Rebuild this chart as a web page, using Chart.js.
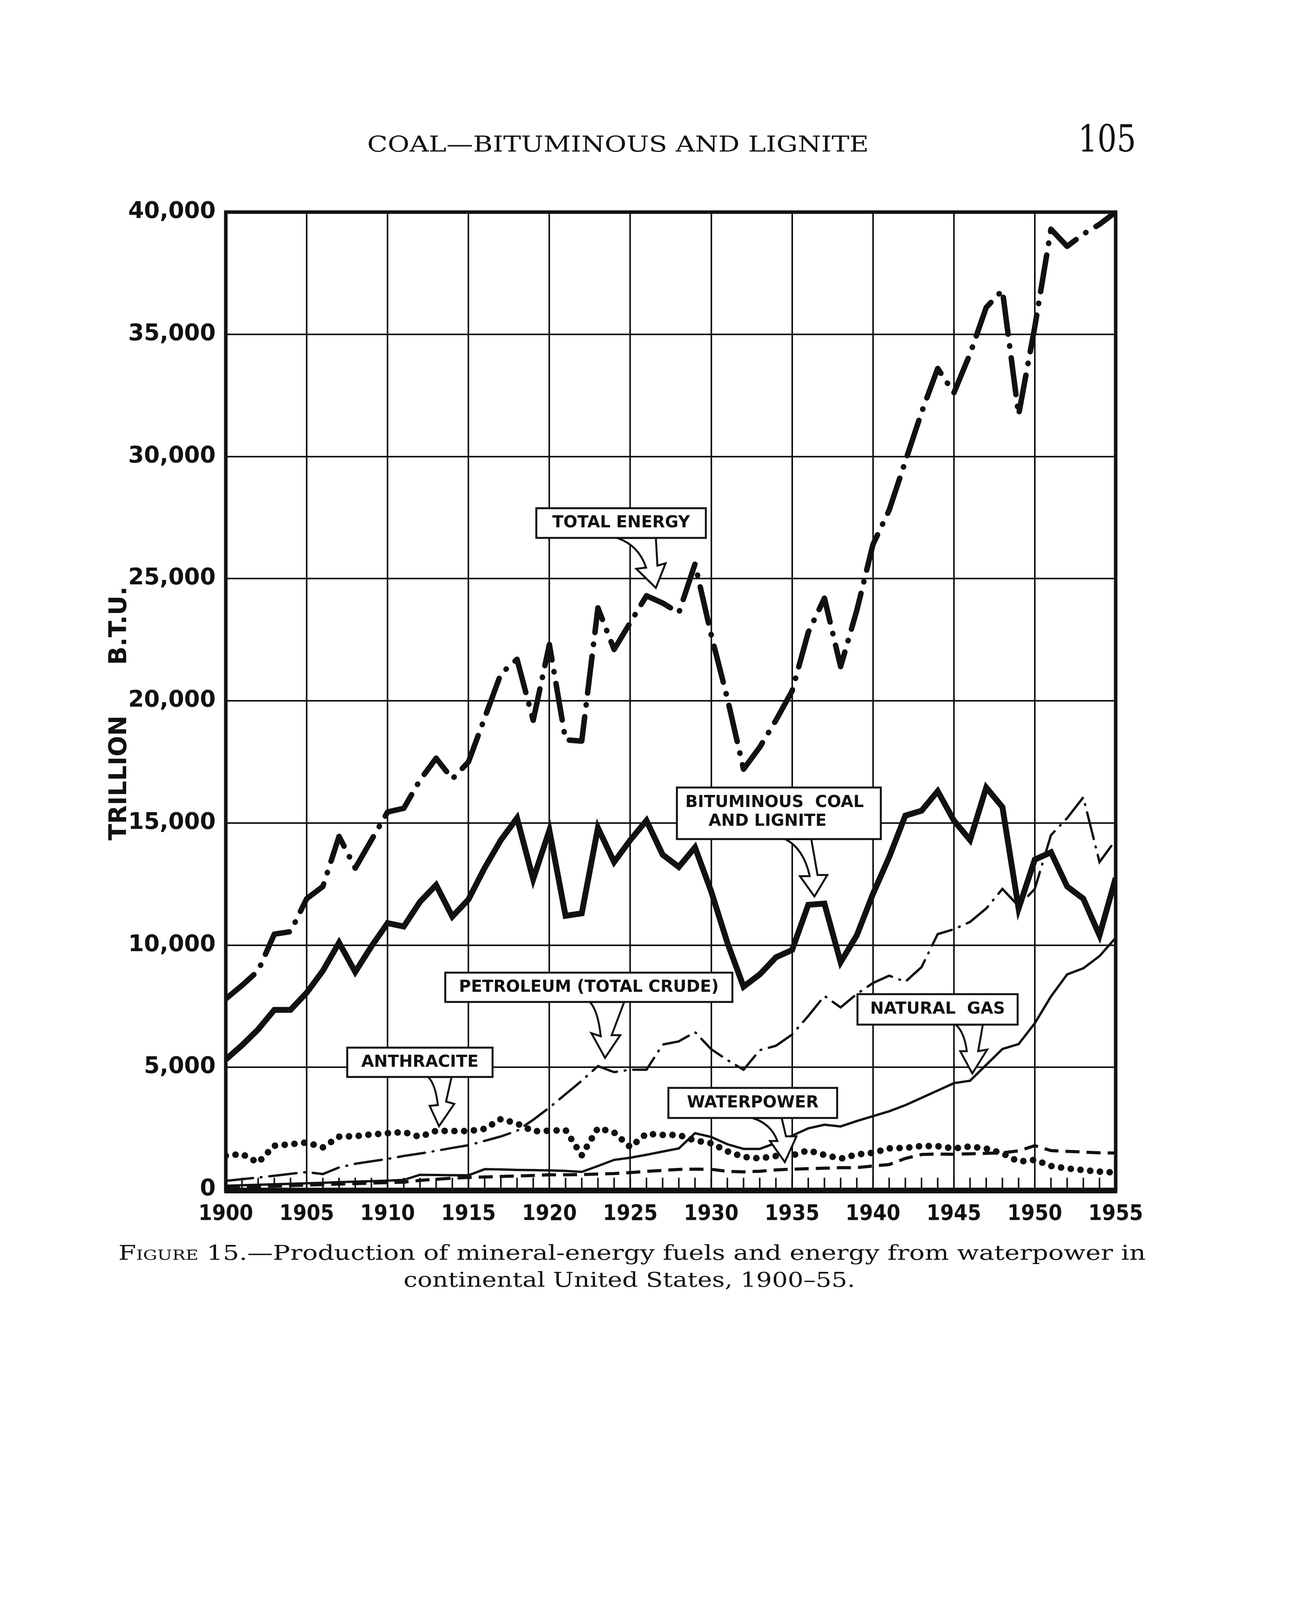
<!DOCTYPE html>
<html>
<head>
<meta charset="utf-8">
<title>Figure 15 - Production of mineral-energy fuels</title>
<script src="https://cdn.jsdelivr.net/npm/chart.js@4.4.0/dist/chart.umd.min.js"></script>
<style>
  html, body { margin: 0; padding: 0; background: #fff; }
  #page { position: relative; width: 3356px; height: 5403px; background: #fff; overflow: hidden; color: #111; }
  #chart { position: absolute; left: 0; top: 0; }
  .txt { position: absolute; white-space: nowrap; font-family: "DejaVu Serif", serif; line-height: 1; transform-origin: left top; }
</style>
</head>
<body>
<div id="page">
  <div class="txt" data-w="1284" style="left:940px; top:341px; font-size:56px;">COAL—BITUMINOUS AND LIGNITE</div>
  <div class="txt" data-w="148" style="left:2760px; top:307px; font-size:96px;">105</div>
  <canvas id="chart" width="3356" height="3400"></canvas>
  <div class="txt" data-w="2630" style="left:303px; top:3181px; font-size:52px;"><span style="font-variant:small-caps">Figure</span> 15.—Production of mineral-energy fuels and energy from waterpower in</div>
  <div class="txt" data-w="1156" style="left:1033px; top:3250px; font-size:52px;">continental United States, 1900–55.</div>
  <div class="txt" data-w="472" style="left:509px; top:4853px; font-size:56px;">428704—58——8</div>
</div>

<script>
// years 1900-1955, values in trillion B.t.u.
const years = [1900, 1901, 1902, 1903, 1904, 1905, 1906, 1907, 1908, 1909,
               1910, 1911, 1912, 1913, 1914, 1915, 1916, 1917, 1918, 1919,
               1920, 1921, 1922, 1923, 1924, 1925, 1926, 1927, 1928, 1929,
               1930, 1931, 1932, 1933, 1934, 1935, 1936, 1937, 1938, 1939,
               1940, 1941, 1942, 1943, 1944, 1945, 1946, 1947, 1948, 1949,
               1950, 1951, 1952, 1953, 1954, 1955];

const totalEnergy = [7800, 8350, 8950, 10450, 10550, 11900, 12400, 14450, 13150, 14300,
                     15450, 15600, 16750, 17650, 16800, 17500, 19300, 21100, 21700, 19200,
                     22300, 18400, 18350, 23800, 22100, 23200, 24300, 24000, 23600, 25600,
                     22700, 20100, 17200, 18100, 19200, 20400, 22800, 24200, 21400, 23700,
                     26400, 27800, 29800, 31800, 33600, 32600, 34200, 36100, 36800, 31700,
                     35300, 39300, 38600, 39100, 39500, 40000];

const bituminous = [5320, 5900, 6550, 7350, 7350, 8050, 8950, 10100, 8900, 9950,
                    10900, 10760, 11770, 12460, 11170, 11870, 13160, 14300, 15200, 12700,
                    14700, 11200, 11300, 14800, 13400, 14300, 15100, 13700, 13200, 14000,
                    12200, 10100, 8300, 8800, 9500, 9800, 11650, 11700, 9300, 10400,
                    12100, 13600, 15300, 15500, 16300, 15100, 14300, 16450, 15650, 11500,
                    13500, 13800, 12400, 11900, 10400, 12750];

const petroleum = [350, 420, 490, 560, 640, 710, 630, 900, 1050, 1150,
                   1250, 1370, 1470, 1580, 1700, 1810, 1990, 2170, 2400, 2850,
                   3350, 3900, 4450, 5050, 4800, 4900, 4900, 5930, 6060, 6440,
                   5740, 5300, 4900, 5700, 5880, 6340, 7100, 7920, 7450, 8000,
                   8450, 8750, 8500, 9100, 10450, 10650, 10950, 11500, 12300, 11600,
                   12300, 14500, 15200, 16050, 13400, 14300];

const naturalGas = [150, 170, 190, 210, 230, 250, 270, 300, 320, 340,
                    360, 390, 600, 590, 585, 580, 830, 820, 800, 790,
                    780, 760, 720, 960, 1210, 1300, 1420, 1550, 1680, 2300,
                    2150, 1850, 1660, 1660, 1900, 2200, 2500, 2650, 2580, 2800,
                    3000, 3200, 3450, 3750, 4050, 4350, 4450, 5100, 5750, 5950,
                    6800, 7900, 8800, 9050, 9550, 10300];

const anthracite = [1380, 1450, 1100, 1790, 1850, 1920, 1720, 2160, 2180, 2250,
                    2300, 2350, 2150, 2400, 2390, 2390, 2480, 2880, 2700, 2380,
                    2400, 2430, 1400, 2510, 2330, 1730, 2280, 2230, 2230, 2000,
                    1890, 1560, 1330, 1270, 1370, 1390, 1600, 1410, 1260, 1430,
                    1500, 1680, 1700, 1780, 1770, 1680, 1760, 1670, 1475, 1140,
                    1210, 960, 860, 790, 730, 690];

const waterpower = [100, 110, 125, 140, 160, 180, 200, 220, 240, 260,
                    280, 300, 370, 420, 460, 490, 510, 530, 550, 570,
                    600, 600, 610, 630, 650, 690, 740, 780, 820, 830,
                    825, 740, 720, 745, 800, 830, 850, 870, 890, 895,
                    960, 1020, 1270, 1430, 1450, 1440, 1460, 1480, 1500, 1580,
                    1790, 1590, 1560, 1530, 1500, 1490];

const xTickLabels = ['1900', '1905', '1910', '1915', '1920', '1925', '1930', '1935', '1940', '1945', '1950', '1955'];
const yTickLabels = ['0', '5,000', '10,000', '15,000', '20,000', '25,000', '30,000', '35,000', '40,000'];

// callout boxes: tip in data units, box and arrow outline in px relative to the tip
const callouts = [
  { tip: [1926.58, 24620], box: [-306, -204, 434, 76], text: [{ s: 'TOTAL ENERGY', dx: 0, dy: 38 }],
    arrow: [[-99, -128], [-25, -52], [-50, -49], [25, -63], [4, -57], [0, -128]] },
  { tip: [1936.38, 11990], box: [-352, -279, 522, 132], text: [{ s: 'BITUMINOUS  COAL', dx: -11, dy: 39 }, { s: 'AND LIGNITE', dx: -29, dy: 87 }],
    arrow: [[-75, -147], [-12, -52], [-37, -52], [33, -55], [8, -55], [-8, -147]] },
  { tip: [1923.44, 5388], box: [-409, -218, 735, 75], text: [{ s: 'PETROLEUM (TOTAL CRUDE)', dx: 0, dy: 38 }],
    arrow: [[-39, -143], [-11, -55], [-35, -63], [39, -58], [17, -58], [49, -143]] },
  { tip: [1946.14, 4748], box: [-294, -203, 410, 78], text: [{ s: 'NATURAL  GAS', dx: 0, dy: 39 }],
    arrow: [[-43, -125], [-14, -57], [-31, -57], [38, -61], [15, -57], [27, -125]] },
  { tip: [1913.18, 2590], box: [-235, -201, 372, 75], text: [{ s: 'ANTHRACITE', dx: 0, dy: 38 }],
    arrow: [[-28, -126], [-3, -54], [-24, -52], [39, -57], [18, -63], [32, -126]] },
  { tip: [1934.55, 1119], box: [-298, -190, 432, 77], text: [{ s: 'WATERPOWER', dx: 0, dy: 39 }],
    arrow: [[-83, -113], [-19, -54], [-38, -54], [30, -66], [3, -66], [-8, -113]] }
];

const INK = '#111';
const pts = vals => years.map((yr, i) => ({ x: yr, y: vals[i] }));

// frame and yearly tick marks along the base
const framePlugin = {
  id: 'frame',
  beforeDatasetsDraw(chart) {
    const { ctx, chartArea: a, scales: { x } } = chart;
    ctx.save();
    ctx.strokeStyle = INK;
    ctx.lineWidth = 4;
    years.forEach(yr => {
      const px = x.getPixelForValue(yr);
      ctx.beginPath();
      ctx.moveTo(px, a.bottom);
      ctx.lineTo(px, a.bottom - 30);
      ctx.stroke();
    });
    ctx.lineWidth = 9;
    ctx.strokeRect(a.left, a.top, a.right - a.left, a.bottom - a.top);
    ctx.lineWidth = 14;
    ctx.beginPath();
    ctx.moveTo(a.left - 4, a.bottom + 3);
    ctx.lineTo(a.right + 4, a.bottom + 3);
    ctx.stroke();
    ctx.restore();
  }
};

const calloutPlugin = {
  id: 'callouts',
  afterDatasetsDraw(chart) {
    const { ctx, scales: { x, y } } = chart;
    ctx.save();
    ctx.strokeStyle = INK;
    ctx.lineWidth = 5;
    callouts.forEach(c => {
      const tx = x.getPixelForValue(c.tip[0]);
      const ty = y.getPixelForValue(c.tip[1]);
      const [L0, L1, L2, R2, R1, R0] = c.arrow.map(p => [tx + p[0], ty + p[1]]);
      ctx.fillStyle = '#fff';
      ctx.beginPath();
      ctx.moveTo(L0[0], L0[1]);
      ctx.quadraticCurveTo(L0[0] + 0.75 * (L1[0] - L0[0]), L0[1] + 0.25 * (L1[1] - L0[1]), L1[0], L1[1]);
      ctx.lineTo(L2[0], L2[1]);
      ctx.lineTo(tx, ty);
      ctx.lineTo(R2[0], R2[1]);
      ctx.lineTo(R1[0], R1[1]);
      ctx.lineTo(R0[0], R0[1]);
      ctx.closePath();
      ctx.fill();
      ctx.stroke();

      const bx = tx + c.box[0], by = ty + c.box[1], bw = c.box[2], bh = c.box[3];
      ctx.fillRect(bx, by, bw, bh);
      ctx.strokeRect(bx, by, bw, bh);
      ctx.fillStyle = INK;
      ctx.font = 'bold 42px "DejaVu Sans"';
      ctx.textAlign = 'center';
      ctx.textBaseline = 'middle';
      c.text.forEach(t => ctx.fillText(t.s, bx + bw / 2 + t.dx, by + t.dy));
    });
    ctx.restore();
  }
};

const lineBase = { pointRadius: 0, tension: 0, fill: false, borderColor: INK };

new Chart(document.getElementById('chart'), {
  type: 'line',
  data: {
    datasets: [
      { ...lineBase, label: 'Waterpower', data: pts(waterpower), borderWidth: 8, borderDash: [36, 18] },
      { ...lineBase, label: 'Anthracite', data: pts(anthracite), borderWidth: 17, borderDash: [0, 25], borderCapStyle: 'round' },
      { ...lineBase, label: 'Natural gas', data: pts(naturalGas), borderWidth: 6 },
      { ...lineBase, label: 'Petroleum (total crude)', data: pts(petroleum), borderWidth: 6, borderDash: [70, 20, 2, 20], borderCapStyle: 'round' },
      { ...lineBase, label: 'Bituminous coal and lignite', data: pts(bituminous), borderWidth: 15 },
      { ...lineBase, label: 'Total energy', data: pts(totalEnergy), borderWidth: 14, borderDash: [95, 30, 1, 30], borderCapStyle: 'round', borderJoinStyle: 'round' }
    ]
  },
  options: {
    responsive: false,
    devicePixelRatio: 1,
    animation: false,
    layout: { padding: { left: 266, top: 543, right: 500, bottom: 205 } },
    plugins: { legend: { display: false }, tooltip: { enabled: false } },
    scales: {
      x: {
        type: 'linear', min: 1900, max: 1955,
        grid: { color: INK, lineWidth: 4, drawTicks: false },
        border: { display: false },
        ticks: {
          stepSize: 5, autoSkip: false, maxRotation: 0, padding: 30, color: INK,
          font: { family: '"Liberation Sans Narrow", "DejaVu Sans Condensed", "DejaVu Sans"', weight: 'bold', size: 56 },
          callback: (v, i) => xTickLabels[i]
        },
        afterFit: s => { s.height = 150; }
      },
      y: {
        min: 0, max: 40000,
        grid: { color: INK, lineWidth: 4, drawTicks: false },
        border: { display: false },
        ticks: {
          stepSize: 5000, padding: 26, color: INK,
          font: { family: '"DejaVu Sans"', weight: 'bold', size: 58 },
          callback: (v, i) => yTickLabels[i]
        },
        title: {
          display: true, text: 'TRILLION      B.T.U.   ', color: INK,
          font: { family: '"DejaVu Sans"', weight: 'bold', size: 62 }
        },
        afterFit: s => { s.width = 312; }
      }
    }
  },
  plugins: [framePlugin, calloutPlugin]
});

// stretch page texts to the widths they have in the printed page
document.querySelectorAll('.txt[data-w]').forEach(el => {
  const w = el.getBoundingClientRect().width;
  if (w > 0) el.style.transform = 'scaleX(' + (Number(el.dataset.w) / w) + ')';
});
</script>
</body>
</html>
